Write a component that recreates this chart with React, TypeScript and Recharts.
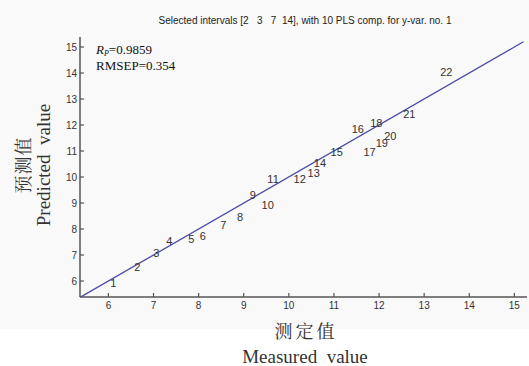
import React from 'react';
import { ScatterChart, Scatter, XAxis, YAxis } from 'recharts';

// sample numbers shown on the plot
const sampleIds = [1, 2, 3, 4, 5, 6, 7, 8, 9, 10, 11, 12, 13, 14, 15, 16, 17, 18, 19, 20, 21, 22];
const measured = [6.11, 6.64, 7.06, 7.35, 7.84, 8.09, 8.55, 8.92, 9.2, 9.53, 9.65, 10.24, 10.55, 10.69, 11.06, 11.53, 11.79, 11.94, 12.06, 12.25, 12.67, 13.49];
const predicted = [5.93, 6.53, 7.07, 7.55, 7.6, 7.74, 8.15, 8.47, 9.31, 8.92, 9.91, 9.91, 10.14, 10.53, 10.95, 11.83, 10.95, 12.07, 11.32, 11.58, 12.42, 14.03];

// y = x reference line ends
const fitLine = [5.39, 15.2];

const xTicks = [6, 7, 8, 9, 10, 11, 12, 13, 14, 15];
const yTicks = [6, 7, 8, 9, 10, 11, 12, 13, 14, 15];

const points = sampleIds.map((id, i) => ({ id, x: measured[i], y: predicted[i] }));
const lineData = fitLine.map((v) => ({ x: v, y: v }));

const tickStyle = { fontSize: 10, fill: '#333', fontFamily: 'Liberation Sans, Arial, sans-serif' };

const LabelShape = (props: any) => {
  const { cx, cy, payload } = props;
  return (
    <text
      x={cx}
      y={cy}
      textAnchor="middle"
      dominantBaseline="central"
      fontSize={11}
      fill="#333"
      fontFamily="Liberation Sans, Arial, sans-serif"
    >
      {payload.id}
    </text>
  );
};

export default function App() {
  return (
    <div style={{ position: 'absolute', left: 0, top: 0, width: 529, height: 366, background: '#fff', overflow: 'hidden' }}>
      <div style={{ position: 'absolute', left: 0, top: 0, width: 529, height: 329, background: '#f9f9f9' }} />
      <div style={{ position: 'absolute', left: 0, top: 0 }}>
        <ScatterChart width={529} height={366} margin={{ top: 37, right: 2, left: 50, bottom: 49 }}>
          <XAxis
            type="number"
            dataKey="x"
            domain={[5.37, 15.28]}
            ticks={xTicks}
            allowDataOverflow
            height={20}
            tickSize={-4}
            tickMargin={9}
            tick={tickStyle}
            axisLine={{ stroke: '#555', strokeWidth: 1.5 }}
            tickLine={{ stroke: '#555', strokeWidth: 1.2 }}
          />
          <YAxis
            type="number"
            dataKey="y"
            domain={[5.385, 15.385]}
            ticks={yTicks}
            allowDataOverflow
            width={30}
            tickSize={-4}
            tickMargin={7}
            tick={tickStyle}
            axisLine={{ stroke: '#555', strokeWidth: 1.5 }}
            tickLine={{ stroke: '#555', strokeWidth: 1.2 }}
          />
          <Scatter
            data={lineData}
            line={{ stroke: '#4a4aa8', strokeWidth: 1.3 }}
            shape={() => <g />}
            isAnimationActive={false}
          />
          <Scatter data={points} shape={<LabelShape />} isAnimationActive={false} />
        </ScatterChart>
      </div>
      <div
        style={{
          position: 'absolute',
          left: 305,
          top: 20,
          transform: 'translate(-50%, -50%)',
          whiteSpace: 'pre',
          fontFamily: 'Liberation Sans, Arial, sans-serif',
          fontSize: 10,
          color: '#222',
        }}
      >
        {'Selected intervals [2   3   7  14], with 10 PLS comp. for y-var. no. 1'}
      </div>
      <div style={{ position: 'absolute', left: 96, top: 42, fontFamily: 'Liberation Serif, Times New Roman, serif', fontSize: 13, color: '#111', lineHeight: '15px' }}>
        <div style={{ height: 16 }}>
          <i>R</i>
          <i style={{ fontSize: 8, position: 'relative', top: 1.5, lineHeight: 0 }}>P</i>=0.9859
        </div>
        <div>RMSEP=0.354</div>
      </div>
      <div
        style={{
          position: 'absolute',
          left: 306,
          top: 330,
          transform: 'translate(-50%, -50%)',
          whiteSpace: 'nowrap',
          fontFamily: '"Noto Serif CJK SC", "Noto Sans CJK SC", serif',
          fontSize: 18,
          letterSpacing: 3,
          color: '#333',
        }}
      >
        测定值
      </div>
      <div
        style={{
          position: 'absolute',
          left: 305,
          top: 357,
          transform: 'translate(-50%, -50%)',
          whiteSpace: 'pre',
          fontFamily: 'Liberation Serif, Times New Roman, serif',
          fontSize: 19,
          color: '#333',
        }}
      >
        {'Measured  value'}
      </div>
      <div
        style={{
          position: 'absolute',
          left: 22,
          top: 165,
          transform: 'translate(-50%, -50%) rotate(-90deg)',
          whiteSpace: 'nowrap',
          fontFamily: '"Noto Serif CJK SC", "Noto Sans CJK SC", serif',
          fontSize: 18,
          letterSpacing: 1,
          color: '#333',
        }}
      >
        预测值
      </div>
      <div
        style={{
          position: 'absolute',
          left: 44,
          top: 165,
          transform: 'translate(-50%, -50%) rotate(-90deg)',
          whiteSpace: 'pre',
          fontFamily: 'Liberation Serif, Times New Roman, serif',
          fontSize: 19,
          color: '#333',
        }}
      >
        {'Predicted  value'}
      </div>
    </div>
  );
}
